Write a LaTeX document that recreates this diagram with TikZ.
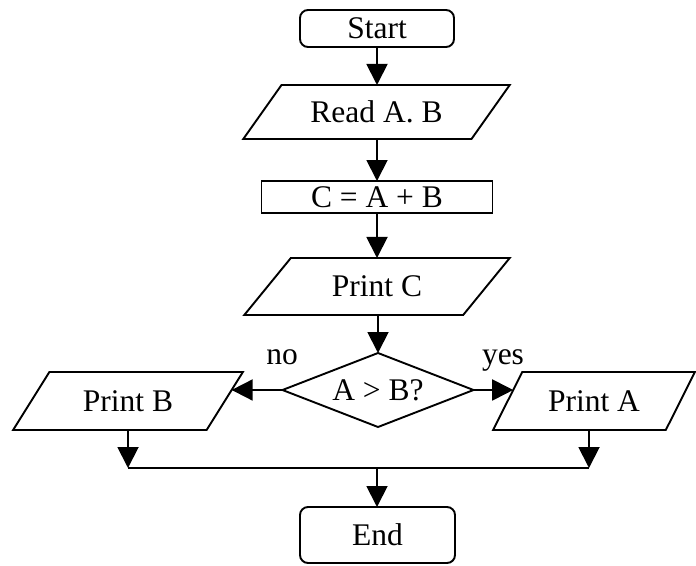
\documentclass[tikz,border=0pt]{standalone}
\usepackage{fontspec}
\setmainfont{Liberation Serif}
\usetikzlibrary{shapes.geometric,arrows.meta,calc}
\begin{document}
\begin{tikzpicture}[x=1pt,y=-1pt,
  every node/.style={font=\fontsize{31.5}{38}\selectfont, inner sep=0pt, outer sep=0pt},
  shp/.style={draw, line width=1.9pt},
  term/.style={shp, rectangle, rounded corners=8pt},
  io/.style={shp, trapezium, trapezium stretches=true},
  proc/.style={shp, rectangle},
  decis/.style={shp, diamond, aspect=2.58},
  lbl/.style={anchor=base},
  arr/.style={line width=1.9pt, -{Triangle[length=21pt,width=21pt]}},
  ln/.style={line width=1.9pt}]
\useasboundingbox (0,0) rectangle (696,565);

\node[term, minimum width=154pt, minimum height=37pt] (start) at (377,28.5) {Start};
\node[io, trapezium left angle=40, trapezium right angle=140, minimum width=267pt, minimum height=54pt] (read) at (376.5,112) {Read A. B};
\node[proc, minimum width=231pt, minimum height=32pt] (calc) at (377,197) {C = A + B};
\node[io, trapezium left angle=41, trapezium right angle=139, minimum width=266pt, minimum height=57pt] (printc) at (377,286.5) {Print C};
\node[decis, minimum width=191pt, minimum height=74pt] (dec) at (378,390) {A > B?};
\node[io, trapezium left angle=45.5, trapezium right angle=134.5, minimum width=230pt, minimum height=58pt] (pb) at (128,401) {Print B};
\node[io, trapezium left angle=48.7, trapezium right angle=131.3, minimum width=202pt, minimum height=58pt] (pa) at (594,401) {Print A};
\node[term, minimum width=155pt, minimum height=56pt] (end) at (377.5,535) {End};

\node[lbl] (no) at (282,364) {no};
\node[lbl] (yes) at (503,364) {yes};

\coordinate (jl) at (128,468);
\coordinate (jm) at (377,468);
\coordinate (jr) at (589,468);

\draw[arr] (start.south) -- (start.south |- read.north);
\draw[arr] (calc.north |- read.south) -- (calc.north);
\draw[arr] (calc.south) -- (calc.south |- printc.north);
\draw[arr] (printc.south -| dec.north) -- (dec.north);
\draw[arr] (dec.west) -- ($(pb.top right corner)!0.31!(pb.bottom right corner)$);
\draw[arr] (dec.east) -- ($(pa.top left corner)!0.31!(pa.bottom left corner)$);
\draw[arr] (pb.south) -- (pb.south |- jl);
\draw[arr] (jr |- pa.south) -- (jr);
\draw[ln] (jl) -- (jr);
\draw[arr] (jm) -- (end.north -| jm);
\end{tikzpicture}
\end{document}
